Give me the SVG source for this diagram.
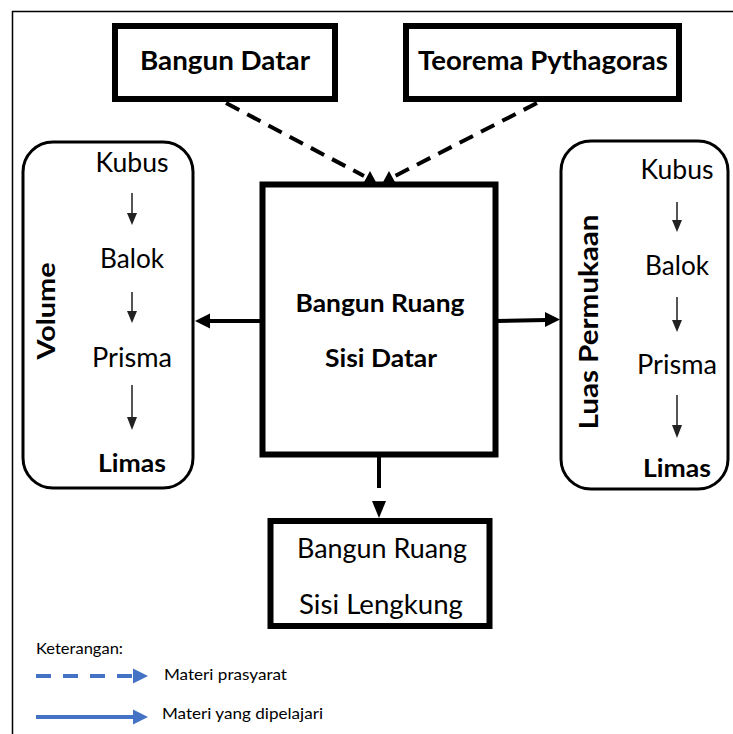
<svg xmlns="http://www.w3.org/2000/svg" width="733" height="734" viewBox="0 0 733 734">
<defs>
<style>
.t{font-family:Lato,"Liberation Sans",sans-serif;fill:#000;text-anchor:middle}
.b{font-weight:bold}
.box{fill:#fff;stroke:#000;stroke-width:6}
.rbox{fill:#fff;stroke:#000;stroke-width:3}
.sm{stroke:#555;stroke-width:2}
.smh{fill:#222}
.lg{font-family:Lato,"Liberation Sans",sans-serif;font-size:15px;fill:#000}
</style>
</defs>
<rect width="733" height="734" fill="#fff"/>
<path d="M12.5,734 V11.5 H733" fill="none" stroke="#000" stroke-width="1.5"/>

<g id="connectors">
<line x1="226" y1="103" x2="364" y2="176" stroke="#000" stroke-width="4" stroke-dasharray="15,9"/>
<line x1="537" y1="103" x2="395" y2="176" stroke="#000" stroke-width="4" stroke-dasharray="15,9"/>
<polygon points="363,184 370,171 377,184" fill="#000"/>
<polygon points="382,184 389,171 396,184" fill="#000"/>
<line x1="262" y1="321" x2="208" y2="321" stroke="#000" stroke-width="4"/>
<polygon points="195,321 210,313.5 210,328.5" fill="#000"/>
<line x1="496" y1="321" x2="546" y2="320" stroke="#000" stroke-width="4"/>
<polygon points="560,319.5 545,312 545,327" fill="#000"/>
<line x1="379" y1="456" x2="379" y2="488" stroke="#000" stroke-width="4"/>
<polygon points="379,518 372,501 386,501" fill="#000"/>
</g>

<g id="node-bangun-datar">
<rect class="box" x="115" y="26" width="220" height="73"/>
<text class="t b" x="225" y="70" font-size="26" textLength="170" lengthAdjust="spacingAndGlyphs">Bangun Datar</text>
</g>

<g id="node-teorema">
<rect class="box" x="406" y="26" width="273" height="73"/>
<text class="t b" x="543" y="70" font-size="26" textLength="250" lengthAdjust="spacingAndGlyphs">Teorema Pythagoras</text>
</g>

<g id="node-main">
<rect class="box" x="262.5" y="184.5" width="233" height="270"/>
<text class="t b" x="380" y="312" font-size="25" textLength="169" lengthAdjust="spacingAndGlyphs">Bangun Ruang</text>
<text class="t b" x="381" y="367" font-size="25" textLength="112" lengthAdjust="spacingAndGlyphs">Sisi Datar</text>
</g>

<g id="node-volume">
<rect class="rbox" x="23" y="142" width="170" height="346" rx="30"/>
<text class="t b" transform="translate(55,311) rotate(-90)" x="0" y="0" font-size="25" textLength="97" lengthAdjust="spacingAndGlyphs">Volume</text>
<text class="t" x="132" y="172" font-size="26" textLength="73" lengthAdjust="spacingAndGlyphs">Kubus</text>
<line class="sm" x1="132" y1="193" x2="132" y2="214"/>
<polygon class="smh" points="132,225 127,213 137,213"/>
<text class="t" x="132" y="268" font-size="26" textLength="64" lengthAdjust="spacingAndGlyphs">Balok</text>
<line class="sm" x1="132" y1="292" x2="132" y2="312"/>
<polygon class="smh" points="132,323 127,311 137,311"/>
<text class="t" x="132" y="367" font-size="26" textLength="80" lengthAdjust="spacingAndGlyphs">Prisma</text>
<line class="sm" x1="132" y1="385" x2="132" y2="418"/>
<polygon class="smh" points="132,430 127,417 137,417"/>
<text class="t b" x="132" y="472" font-size="25" textLength="68" lengthAdjust="spacingAndGlyphs">Limas</text>
</g>

<g id="node-luas">
<rect class="rbox" x="561" y="141" width="167" height="348" rx="30"/>
<text class="t b" transform="translate(598,322) rotate(-90)" x="0" y="0" font-size="26" textLength="215" lengthAdjust="spacingAndGlyphs">Luas Permukaan</text>
<text class="t" x="677" y="179" font-size="26" textLength="73" lengthAdjust="spacingAndGlyphs">Kubus</text>
<line class="sm" x1="677" y1="202" x2="677" y2="221"/>
<polygon class="smh" points="677,232 672,220 682,220"/>
<text class="t" x="677" y="275" font-size="26" textLength="64" lengthAdjust="spacingAndGlyphs">Balok</text>
<line class="sm" x1="677" y1="297" x2="677" y2="321"/>
<polygon class="smh" points="677,332 672,320 682,320"/>
<text class="t" x="677" y="374" font-size="26" textLength="80" lengthAdjust="spacingAndGlyphs">Prisma</text>
<line class="sm" x1="677" y1="395" x2="677" y2="426"/>
<polygon class="smh" points="677,438 672,425 682,425"/>
<text class="t b" x="677" y="477" font-size="25" textLength="68" lengthAdjust="spacingAndGlyphs">Limas</text>
</g>

<g id="node-lengkung">
<rect class="box" x="270.5" y="521" width="219" height="105"/>
<text class="t" x="382" y="558" font-size="27" textLength="170" lengthAdjust="spacingAndGlyphs">Bangun Ruang</text>
<text class="t" x="381" y="614" font-size="27" textLength="164" lengthAdjust="spacingAndGlyphs">Sisi Lengkung</text>
</g>

<g id="legend">
<text class="lg" x="36" y="654" textLength="87" lengthAdjust="spacingAndGlyphs">Keterangan:</text>
<line x1="36" y1="676" x2="134" y2="676" stroke="#4472C4" stroke-width="4" stroke-dasharray="15,12"/>
<polygon points="148,676 133,668.5 133,683.5" fill="#4472C4"/>
<text class="lg" x="164" y="680" textLength="123" lengthAdjust="spacingAndGlyphs">Materi prasyarat</text>
<line x1="36" y1="717" x2="134" y2="717" stroke="#4472C4" stroke-width="4"/>
<polygon points="148,717 133,709.5 133,724.5" fill="#4472C4"/>
<text class="lg" x="162" y="719" textLength="161" lengthAdjust="spacingAndGlyphs">Materi yang dipelajari</text>
</g>
</svg>
